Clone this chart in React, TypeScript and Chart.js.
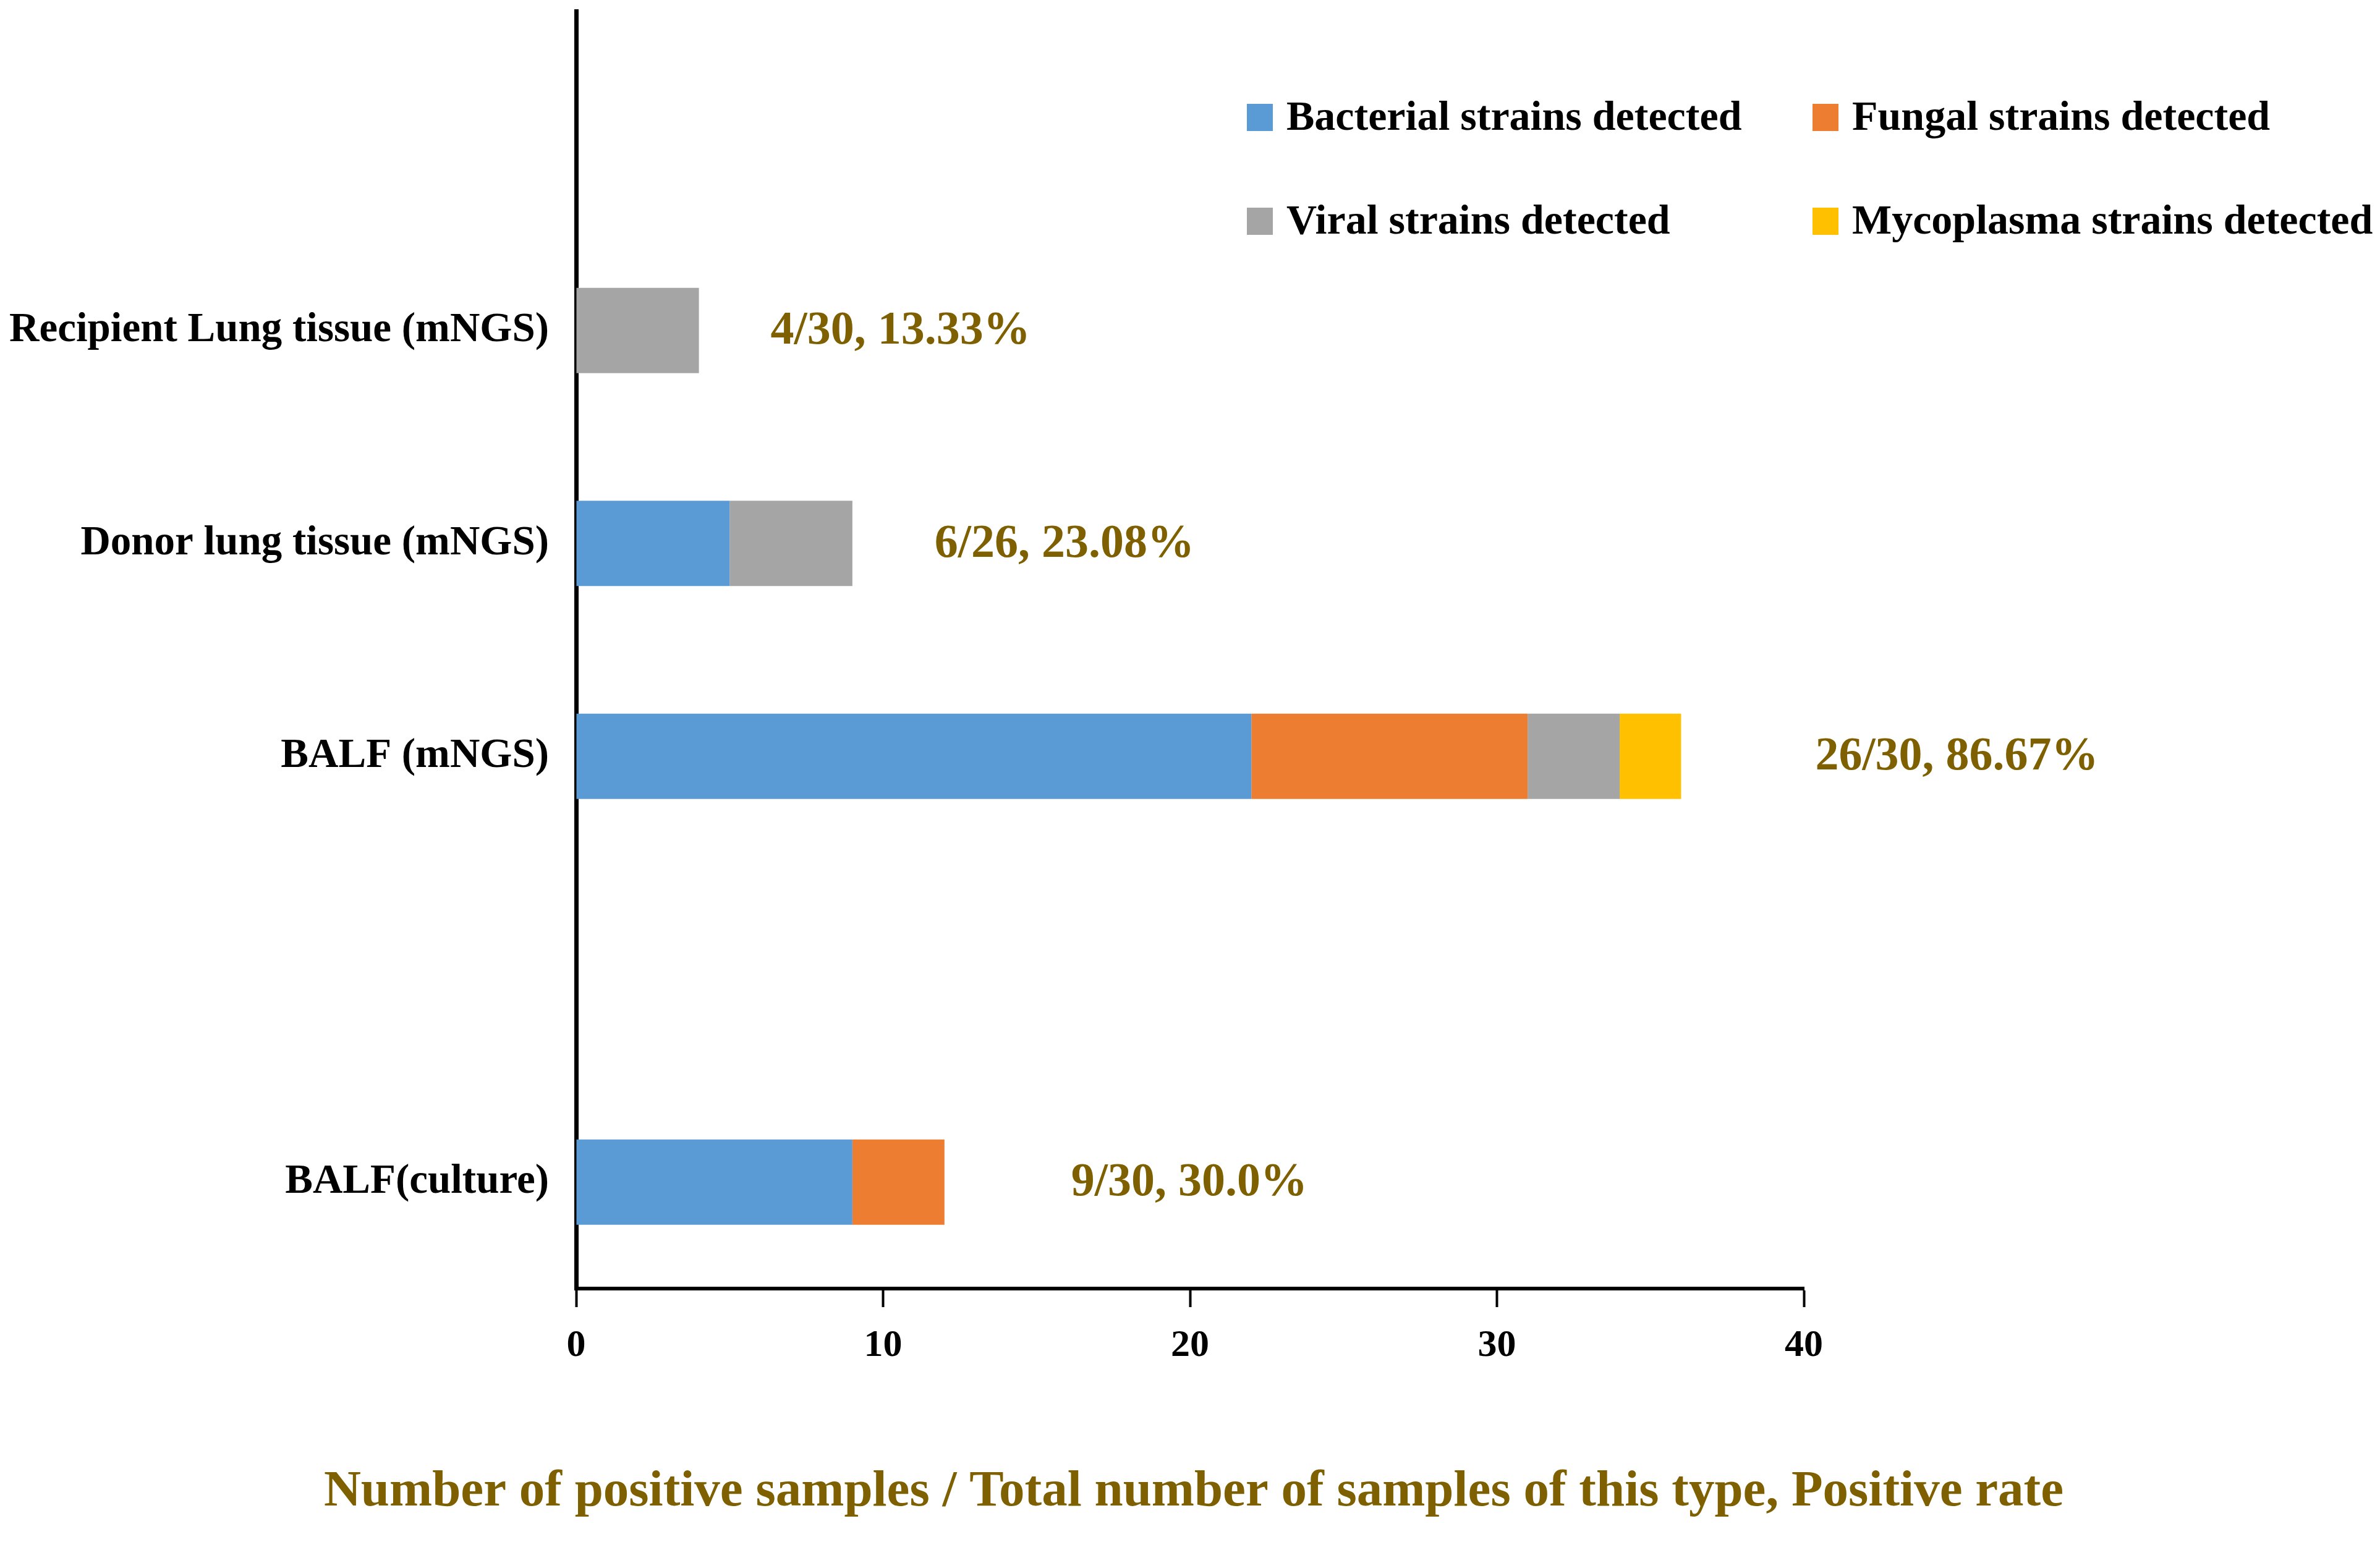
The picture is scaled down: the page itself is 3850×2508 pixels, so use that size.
import React, { useEffect, useRef } from 'react'
import { Chart, ChartConfiguration, Plugin, registerables } from 'chart.js'

const categories = ['', 'Recipient Lung tissue (mNGS)', 'Donor lung tissue (mNGS)', 'BALF (mNGS)', '', 'BALF(culture)']
const bacterial = [null, null, 5, 22, null, 9]
const fungal = [null, null, null, 9, null, 3]
const viral = [null, 4, 4, 3, null, null]
const mycoplasma = [null, null, null, 2, null, null]
const rateLabels = ['', '4/30, 13.33%', '6/26, 23.08%', '26/30, 86.67%', '', '9/30, 30.0%']
const seriesNames = [
  'Bacterial strains detected',
  'Fungal strains detected',
  'Viral strains detected',
  'Mycoplasma strains detected',
]
const xTicks = [0, 10, 20, 30, 40]
const xTitle = 'Number of positive samples / Total number of samples of this type, Positive rate'

const SERIF = "'Liberation Serif', 'Times New Roman', serif"
const OLIVE = '#7F6000'

// legend sits in the empty top row, two columns
const legendPlugin: Plugin = {
  id: 'cornerLegend',
  afterDraw(chart) {
    const { ctx } = chart
    ctx.save()
    ctx.font = `bold 68px ${SERIF}`
    ctx.textBaseline = 'middle'
    ctx.textAlign = 'left'
    chart.data.datasets.forEach((ds, i) => {
      const x = i % 2 === 0 ? 2017 : 2932
      const y = i < 2 ? 190 : 358
      ctx.fillStyle = ds.backgroundColor as string
      ctx.fillRect(x, y - 22, 42, 44)
      ctx.fillStyle = '#000'
      ctx.fillText(ds.label ?? '', x + 64, y + 2)
    })
    ctx.restore()
  },
}

// "n/N, rate" text to the right of each bar, plus the axis title (too wide for the scale's own title)
const rateLabelPlugin: Plugin = {
  id: 'rateLabels',
  afterDraw(chart) {
    const { ctx, chartArea } = chart
    const xScale = chart.scales.x
    const yScale = chart.scales.y
    const gap = [0, 116, 133, 217, 0, 205]
    ctx.save()
    ctx.font = `bold 76px ${SERIF}`
    ctx.fillStyle = OLIVE
    ctx.textBaseline = 'middle'
    ctx.textAlign = 'left'
    rateLabels.forEach((text, i) => {
      if (!text) return
      const total = chart.data.datasets.reduce((sum, ds) => sum + ((ds.data[i] as number) || 0), 0)
      ctx.fillText(text, xScale.getPixelForValue(total) + gap[i], yScale.getPixelForValue(i) + 2)
    })
    ctx.font = `bold 83px ${SERIF}`
    ctx.textAlign = 'center'
    ctx.fillText(xTitle, (chartArea.left + chartArea.right) / 2 + 6, 2415)
    ctx.restore()
  },
}

const App = () => {
  const chartRef = useRef<HTMLCanvasElement>(null)

  useEffect(() => {
    Chart.register(...registerables)

    const colors = ['#5B9BD5', '#ED7D31', '#A5A5A5', '#FFC000']
    const series = [bacterial, fungal, viral, mycoplasma]

    const config: ChartConfiguration = {
      type: 'bar',
      data: {
        labels: categories,
        datasets: series.map((data, i) => ({
          label: seriesNames[i],
          data,
          backgroundColor: colors[i],
          borderWidth: 0,
          barPercentage: 0.4,
          categoryPercentage: 1,
        })),
      },
      options: {
        indexAxis: 'y',
        animation: false,
        responsive: true,
        maintainAspectRatio: false,
        layout: { padding: { left: 0, top: 18, right: 932, bottom: 0 } },
        scales: {
          x: {
            stacked: true,
            min: xTicks[0],
            max: xTicks[xTicks.length - 1],
            ticks: {
              stepSize: xTicks[1] - xTicks[0],
              color: '#000',
              padding: 26,
              font: { family: SERIF, size: 62, weight: 'bold' },
            },
            grid: {
              display: true,
              drawOnChartArea: false,
              drawTicks: true,
              tickLength: 30,
              tickWidth: 4,
              tickColor: '#000',
              color: '#000',
            },
            border: { display: true, color: '#000', width: 6 },
            afterFit: (scale) => {
              scale.height = 423
            },
          },
          y: {
            stacked: true,
            ticks: {
              color: '#000',
              padding: 44,
              font: { family: SERIF, size: 67, weight: 'bold' },
            },
            grid: { display: false, drawTicks: false },
            border: { display: true, color: '#000', width: 7 },
            afterFit: (scale) => {
              scale.width = 932
              scale.paddingTop = 0
              scale.paddingBottom = 0
            },
          },
        },
        plugins: {
          legend: { display: false },
          tooltip: { enabled: false },
        },
      },
      plugins: [legendPlugin, rateLabelPlugin],
    }

    const chart = new Chart(chartRef.current!, config)

    return () => {
      chart.destroy()
    }
  }, [])

  return (
    <div style={{ position: 'fixed', left: 0, top: 0, width: 3850, height: 2508, background: '#fff' }}>
      <canvas ref={chartRef}></canvas>
    </div>
  )
}

export default App
